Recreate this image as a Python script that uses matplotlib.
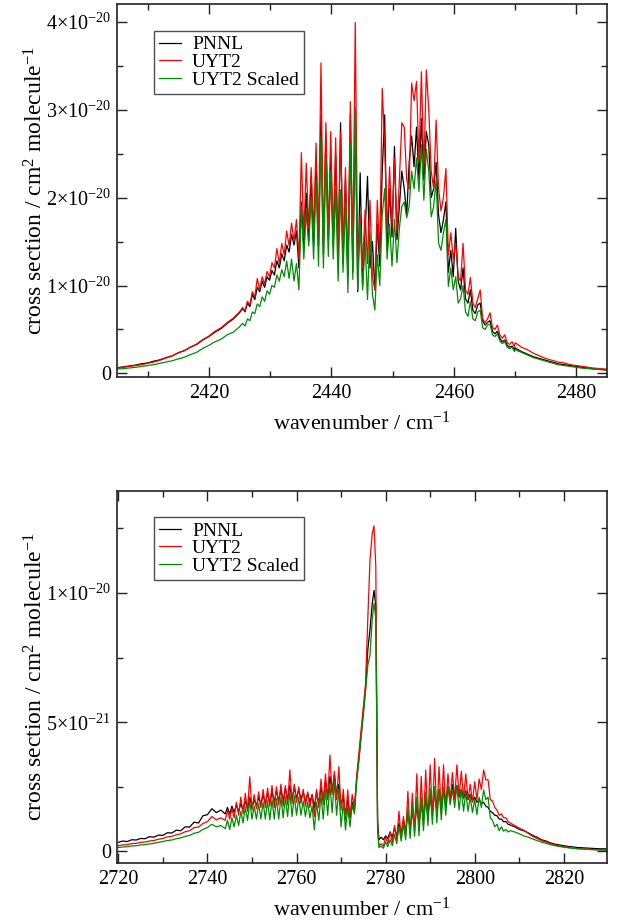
import numpy as np
import matplotlib
matplotlib.use("Agg")
import matplotlib.pyplot as plt
from matplotlib.ticker import FixedLocator, MultipleLocator

plt.rcParams['font.family'] = ['Liberation Serif', 'DejaVu Serif']
plt.rcParams['mathtext.fontset'] = 'custom'
plt.rcParams['mathtext.rm'] = 'Liberation Serif'
plt.rcParams['mathtext.it'] = 'Liberation Serif:italic'
plt.rcParams['mathtext.bf'] = 'Liberation Serif:bold'

# ---------------- Top panel data (units of 1e-20 cm^2 molecule^-1) -------------
top_wn_left = np.linspace(2405, 2425, 21)
top_wn_mid = np.linspace(2425.5, 2469.9, 112)
top_wn_right = np.linspace(2470, 2485, 16)

top_pnnl_left = [0.065, 0.075, 0.085, 0.095, 0.11, 0.12, 0.14, 0.155, 0.18, 0.20, 0.235, 0.26,
                 0.30, 0.33, 0.38, 0.42, 0.47, 0.51, 0.57, 0.62, 0.69]
top_uyt2_left = [0.06, 0.07, 0.08, 0.09, 0.10, 0.115, 0.13, 0.15, 0.175, 0.20, 0.235, 0.26,
                 0.30, 0.335, 0.385, 0.425, 0.48, 0.52, 0.58, 0.63, 0.70]
top_scaled_left = [0.05, 0.055, 0.062, 0.07, 0.08, 0.09, 0.10, 0.115, 0.13, 0.145, 0.165, 0.185,
                   0.215, 0.24, 0.285, 0.32, 0.36, 0.39, 0.44, 0.47, 0.53]

top_pnnl_mid = [
    0.74, 0.70, 0.80, 0.76, 0.90, 0.84, 0.98, 0.93, 1.05, 0.98, 1.10, 1.06, 1.17,
    1.12, 1.28, 1.20, 1.36, 1.28, 1.46, 1.38, 1.58, 1.46, 1.62,
    1.20, 1.95, 1.45, 2.05, 1.50, 2.24, 1.45, 2.40, 1.45, 2.94, 1.35, 2.73, 1.50, 2.45, 1.45,
    2.50, 1.30, 2.85, 1.25, 2.20, 1.10, 2.94, 1.15, 2.96, 0.93,
    2.28, 1.00, 1.60, 2.24, 1.20, 1.50, 0.95, 1.70, 1.22, 2.30, 2.94, 1.40, 2.10, 1.55, 2.58,
    1.52, 1.90, 2.30, 2.10, 1.80, 2.40, 2.70, 2.35, 2.80, 2.20, 2.90, 2.20, 2.75, 2.60, 2.00,
    2.10, 2.40, 1.80, 1.60, 1.75, 1.95, 1.15, 1.40, 1.10, 1.65,
    1.05, 0.95, 1.20, 0.85, 0.80, 0.95, 0.72, 0.68, 0.78, 0.80, 0.60, 0.55, 0.58, 0.60, 0.48,
    0.45, 0.48, 0.40, 0.36, 0.38, 0.32, 0.30, 0.31, 0.27]
top_uyt2_mid = [
    0.75, 0.71, 0.82, 0.78, 0.93, 0.87, 1.08, 0.95, 1.10, 1.02, 1.16, 1.10, 1.26,
    1.20, 1.42, 1.25, 1.48, 1.35, 1.62, 1.45, 1.71, 1.50, 1.75,
    1.30, 2.51, 1.55, 2.39, 1.65, 2.34, 1.60, 2.62, 1.55, 3.53, 1.45, 2.85, 1.60, 2.75, 1.50,
    2.68, 1.30, 2.75, 1.40, 2.34, 1.14, 3.09, 1.30, 3.99, 1.20,
    1.80, 1.20, 1.86, 1.25, 1.97, 1.10, 0.95, 1.97, 1.35, 3.24, 2.60, 1.60, 2.35, 1.65, 2.45,
    1.60, 2.20, 2.85, 2.80, 2.20, 2.10, 3.30, 3.10, 3.32, 2.40, 3.43, 2.30, 3.45, 3.00, 2.30,
    2.10, 2.88, 2.10, 1.85, 2.00, 2.33, 1.35, 1.60, 1.30, 1.48,
    1.10, 1.05, 1.48, 0.95, 0.90, 1.09, 0.80, 0.75, 0.85, 0.95, 0.62, 0.58, 0.62, 0.69, 0.52,
    0.50, 0.55, 0.44, 0.40, 0.44, 0.35, 0.33, 0.36, 0.30]
top_scaled_mid = [
    0.57, 0.54, 0.62, 0.60, 0.70, 0.68, 0.79, 0.76, 0.87, 0.82, 0.94, 0.90, 1.00,
    0.98, 1.12, 1.05, 1.18, 1.10, 1.28, 1.08, 1.30, 1.05, 1.25,
    0.95, 1.90, 1.30, 1.85, 1.45, 2.00, 1.30, 2.20, 1.22, 2.69, 1.20, 2.45, 1.33, 2.30, 1.30,
    2.10, 1.05, 2.09, 1.15, 1.95, 0.92, 2.60, 1.07, 3.03, 0.95,
    1.70, 0.95, 1.50, 0.84, 1.60, 0.90, 0.72, 1.35, 1.00, 1.80, 2.10, 1.30, 1.70, 1.22, 1.75,
    1.26, 1.65, 1.90, 1.95, 1.77, 1.90, 2.30, 2.10, 2.45, 2.07, 2.60, 1.97, 2.55, 2.30, 1.78,
    1.90, 2.20, 1.48, 1.40, 1.60, 1.75, 0.99, 1.20, 0.95, 1.10,
    0.80, 0.85, 1.00, 0.70, 0.65, 0.82, 0.62, 0.60, 0.70, 0.72, 0.52, 0.50, 0.55, 0.56, 0.44,
    0.42, 0.45, 0.37, 0.34, 0.36, 0.30, 0.28, 0.30, 0.25]

top_pnnl_right = [0.29, 0.25, 0.22, 0.19, 0.17, 0.15, 0.13, 0.11, 0.10, 0.09, 0.08, 0.07,
                  0.06, 0.05, 0.045, 0.04]
top_uyt2_right = [0.35, 0.30, 0.27, 0.23, 0.20, 0.17, 0.15, 0.13, 0.12, 0.10, 0.09, 0.08,
                  0.07, 0.06, 0.055, 0.05]
top_scaled_right = [0.27, 0.24, 0.21, 0.18, 0.16, 0.14, 0.12, 0.10, 0.09, 0.08, 0.07, 0.06,
                    0.055, 0.05, 0.045, 0.04]

# ---------------- Bottom panel data (units of 1e-21 cm^2 molecule^-1) ----------
bot_wn_a = np.linspace(2720, 2744, 25)
bot_wn_b = np.linspace(2744.5, 2774.5, 61)
bot_wn_c = [2775.0, 2775.5, 2776.0, 2776.5, 2777.0, 2777.4, 2777.8, 2778.0, 2778.2, 2778.5]
bot_wn_d = np.linspace(2779, 2808, 59)
bot_wn_e = np.linspace(2809, 2830, 22)

bot_pnnl_a = [0.35, 0.40, 0.38, 0.45, 0.44, 0.50, 0.49, 0.57, 0.55, 0.63, 0.62, 0.72, 0.71,
              0.82, 0.80, 0.95, 0.94, 1.13, 1.10, 1.38, 1.42, 1.65, 1.50, 1.60, 1.45]
bot_uyt2_a = [0.22, 0.25, 0.26, 0.30, 0.31, 0.35, 0.36, 0.40, 0.42, 0.47, 0.50, 0.56, 0.58,
              0.64, 0.68, 0.76, 0.80, 0.92, 0.94, 1.08, 1.15, 1.35, 1.22, 1.30, 1.20]
bot_scaled_a = [0.15, 0.17, 0.18, 0.21, 0.22, 0.25, 0.26, 0.29, 0.31, 0.35, 0.38, 0.42, 0.44,
                0.49, 0.52, 0.58, 0.62, 0.70, 0.74, 0.85, 0.92, 1.05, 0.95, 1.00, 0.88]

bot_pnnl_b = [1.70, 1.45, 1.75, 1.50, 1.80, 1.55, 1.85, 1.60, 1.95, 1.65, 2.10, 1.70, 2.00,
              1.75, 2.10, 1.80, 2.20, 1.85, 2.25, 1.85, 2.30, 1.90, 2.35, 1.95, 2.40, 1.95,
              2.45, 2.00, 2.55, 2.00, 2.50, 2.05, 2.40, 2.00, 2.30, 1.95, 2.25, 1.90, 2.20,
              1.70, 2.30, 1.85, 2.50, 1.95, 2.70, 2.10, 2.90, 2.30, 2.96, 2.20, 2.60, 1.80,
              2.10, 1.40, 2.00, 1.30, 1.90, 1.60, 2.80, 3.60, 4.50]
bot_uyt2_b = [1.60, 1.25, 1.65, 1.30, 1.90, 1.40, 2.10, 1.45, 2.25, 1.55, 2.89, 1.60, 2.20,
              1.65, 2.30, 1.70, 2.40, 1.70, 2.45, 1.75, 2.55, 1.70, 2.50, 1.80, 2.60, 1.75,
              2.55, 1.80, 3.15, 1.85, 2.60, 1.90, 2.50, 1.85, 2.40, 1.75, 2.30, 1.70, 2.20,
              1.35, 2.40, 1.70, 2.80, 1.80, 3.00, 2.00, 3.73, 2.20, 3.10, 2.00, 3.28, 1.60,
              2.40, 1.22, 2.38, 1.30, 2.20, 1.70, 2.90, 3.80, 4.70]
bot_scaled_b = [1.20, 0.85, 1.30, 0.95, 1.40, 1.00, 1.55, 1.10, 1.70, 1.20, 1.95, 1.25, 1.75,
                1.25, 1.85, 1.25, 1.90, 1.25, 1.95, 1.22, 2.00, 1.25, 2.05, 1.25, 2.10, 1.30,
                2.10, 1.35, 2.30, 1.35, 2.15, 1.40, 2.10, 1.40, 1.95, 1.35, 1.90, 1.30, 1.75,
                0.83, 1.90, 1.20, 2.20, 1.25, 2.40, 1.40, 2.60, 1.50, 2.70, 1.40, 2.40, 0.95,
                1.90, 0.83, 1.70, 0.95, 1.80, 1.45, 2.70, 3.50, 4.40]

bot_pnnl_c = [5.40, 6.30, 7.80, 8.60, 9.60, 10.1, 9.50, 5.50, 1.20, 0.45]
bot_uyt2_c = [5.60, 6.50, 9.00, 11.3, 12.3, 12.6, 11.0, 6.00, 1.00, 0.20]
bot_scaled_c = [5.30, 6.20, 7.20, 7.60, 9.00, 9.60, 9.00, 5.20, 0.80, 0.15]

bot_pnnl_d = [0.55, 0.45, 0.60, 0.50, 0.75, 0.55, 0.90, 0.60, 1.10, 0.70, 1.20, 0.80, 1.45,
              0.90, 1.55, 1.00, 1.75, 1.10, 1.85, 1.20, 2.00, 1.35, 2.10, 1.50, 2.30, 1.60,
              2.40, 1.70, 2.45, 1.80, 2.50, 2.00, 2.58, 2.05, 2.55, 2.10, 2.40, 2.05, 2.35,
              2.00, 2.20, 1.95, 2.10, 1.90, 2.00, 1.85, 1.90, 1.75, 1.70, 1.55, 1.50, 1.40,
              1.38, 1.25, 1.25, 1.15, 1.15, 1.05, 1.02]
bot_uyt2_d = [0.30, 0.20, 0.55, 0.30, 0.75, 0.35, 1.00, 0.45, 1.55, 0.50, 1.35, 0.60, 2.32,
              0.65, 2.25, 0.75, 3.00, 0.85, 2.90, 1.00, 3.15, 1.20, 3.35, 1.30, 3.60, 1.40,
              3.28, 1.50, 3.35, 1.70, 3.00, 1.95, 3.05, 2.00, 3.35, 2.10, 3.10, 2.05, 3.00,
              2.00, 2.60, 1.90, 2.70, 2.00, 2.80, 2.40, 3.15, 2.77, 2.77, 2.00, 1.95, 1.70,
              1.60, 1.40, 1.45, 1.30, 1.30, 1.15, 1.10]
bot_scaled_d = [0.20, 0.12, 0.35, 0.18, 0.45, 0.22, 0.65, 0.30, 0.95, 0.40, 1.05, 0.45, 1.70,
                0.50, 1.75, 0.58, 2.10, 0.60, 2.10, 0.80, 2.30, 1.00, 2.45, 1.05, 2.51, 1.10,
                2.40, 1.22, 2.45, 1.40, 2.51, 1.80, 2.40, 1.70, 2.55, 1.60, 2.40, 1.55, 2.30,
                1.55, 2.10, 1.50, 2.00, 1.42, 2.10, 1.70, 2.38, 2.00, 2.10, 1.30, 1.20, 0.95,
                1.05, 0.80, 0.95, 0.78, 0.85, 0.75, 0.80]

bot_pnnl_e = [0.95, 0.85, 0.80, 0.72, 0.62, 0.55, 0.45, 0.40, 0.33, 0.28, 0.25, 0.22, 0.19,
              0.17, 0.15, 0.14, 0.13, 0.12, 0.11, 0.10, 0.10, 0.09]
bot_uyt2_e = [1.00, 0.90, 0.82, 0.70, 0.58, 0.50, 0.42, 0.36, 0.30, 0.25, 0.21, 0.18, 0.15,
              0.13, 0.11, 0.10, 0.09, 0.08, 0.07, 0.07, 0.06, 0.06]
bot_scaled_e = [0.75, 0.68, 0.60, 0.55, 0.48, 0.42, 0.36, 0.31, 0.26, 0.22, 0.19, 0.16, 0.14,
                0.12, 0.10, 0.09, 0.08, 0.07, 0.06, 0.05, 0.05, 0.04]

series_names = ["PNNL", "UYT2", "UYT2 Scaled"]
series_colors = ["#000000", "#ff0000", "#008c00"]

top_yticks = [0, 1, 2, 3, 4]
top_yticklabels = ["0", r"1×10$^{-20}$", r"2×10$^{-20}$", r"3×10$^{-20}$", r"4×10$^{-20}$"]
bot_yticks = [0, 5, 10]
bot_yticklabels = ["0", r"5×10$^{-21}$", r"1×10$^{-20}$"]

top_x = np.concatenate([top_wn_left, top_wn_mid, top_wn_right])
top_series = [
    np.concatenate([top_pnnl_left, top_pnnl_mid, top_pnnl_right]),
    np.concatenate([top_uyt2_left, top_uyt2_mid, top_uyt2_right]),
    np.concatenate([top_scaled_left, top_scaled_mid, top_scaled_right]),
]
bot_x = np.concatenate([bot_wn_a, bot_wn_b, bot_wn_c, bot_wn_d, bot_wn_e])
bot_series = [
    np.concatenate([bot_pnnl_a, bot_pnnl_b, bot_pnnl_c, bot_pnnl_d, bot_pnnl_e]),
    np.concatenate([bot_uyt2_a, bot_uyt2_b, bot_uyt2_c, bot_uyt2_d, bot_uyt2_e]),
    np.concatenate([bot_scaled_a, bot_scaled_b, bot_scaled_c, bot_scaled_d, bot_scaled_e]),
]

W, H = 622, 922
fig = plt.figure(figsize=(W / 100, H / 100), dpi=100)

def px_axes(left, top, right, bottom):
    return fig.add_axes([left / W, 1 - bottom / H, (right - left) / W, (bottom - top) / H])

ax1 = px_axes(117, 4, 607, 377)
ax2 = px_axes(117, 491, 607, 863)

ylabel = r"cross section / cm$^{2}$ molecule$^{-1}$"
xlabel = r"wavenumber / cm$^{-1}$"

def style(ax, xlim, ylim, xmaj, xmin, ymin_step, yticks, yticklabels, legend_anchor):
    ax.set_xlim(*xlim)
    ax.set_ylim(*ylim)
    ax.xaxis.set_major_locator(MultipleLocator(xmaj))
    ax.xaxis.set_minor_locator(MultipleLocator(xmin))
    ax.yaxis.set_major_locator(FixedLocator(yticks))
    ax.set_yticklabels(yticklabels)
    ax.yaxis.set_minor_locator(MultipleLocator(ymin_step))
    ax.tick_params(which='both', direction='in', top=True, right=True, labelsize=14.5,
                   width=1.0, color='#222222')
    ax.tick_params(which='major', length=7.5, pad=4)
    ax.tick_params(which='minor', length=4)
    ax.tick_params(axis='x', which='major', pad=5)
    for s in ax.spines.values():
        s.set_linewidth(1.2)
        s.set_color('#222222')
    ax.set_xlabel(xlabel, fontsize=16, labelpad=6)
    ax.set_ylabel(ylabel, fontsize=17)
    ax.yaxis.set_label_coords(-69.0 / 490.0, 0.5)
    leg = ax.legend(loc='upper left', bbox_to_anchor=legend_anchor, borderaxespad=0,
                    fontsize=14, frameon=True, fancybox=False, edgecolor='#222222',
                    handlelength=1.15, handletextpad=0.55, labelspacing=0.0,
                    borderpad=0.25)
    leg.get_frame().set_linewidth(1.0)

for ys, name, col in zip(top_series, series_names, series_colors):
    ax1.plot(top_x, ys, color=col, lw=0.9, label=name)
for ys, name, col in zip(bot_series, series_names, series_colors):
    ax2.plot(bot_x, ys, color=col, lw=0.9, label=name)

style(ax1, (2405, 2485), (-0.04, 4.2), 20, 10, 0.5, top_yticks, top_yticklabels,
      (0.0755, 0.9276))
style(ax2, (2719.7, 2829.7), (-0.45, 13.95), 20, 10, 2.5, bot_yticks, bot_yticklabels,
      (0.0755, 0.930))

fig.savefig("out.png", dpi=100)
